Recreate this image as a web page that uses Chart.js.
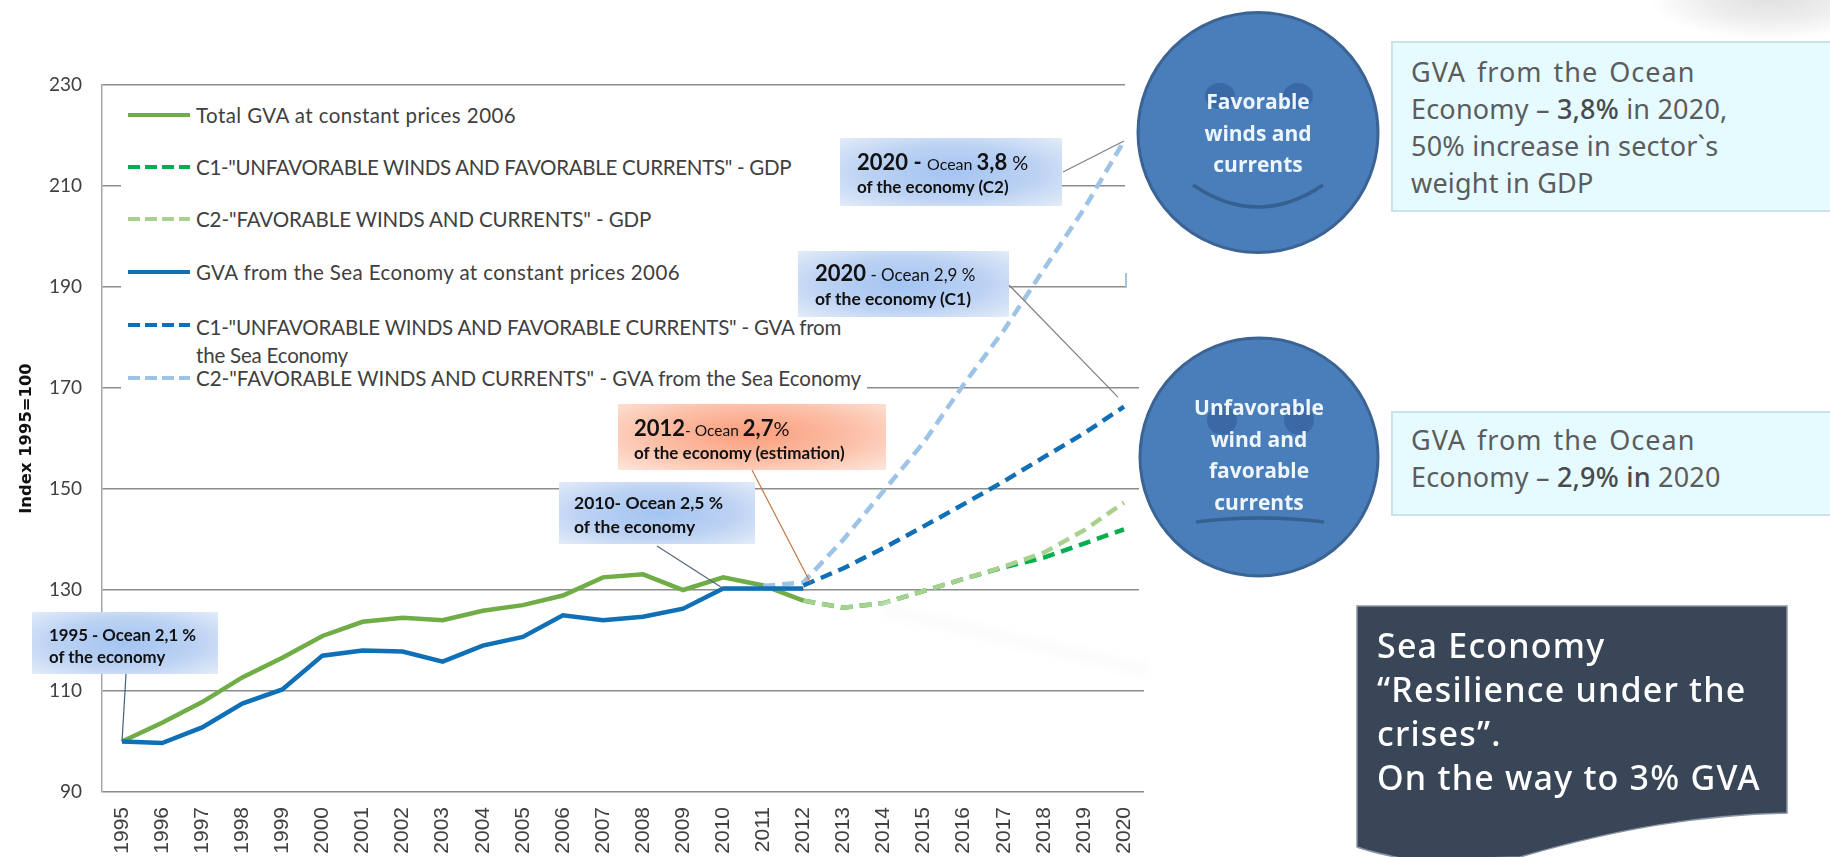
<!DOCTYPE html>
<html lang="en">
<head>
<meta charset="utf-8">
<title>Sea Economy GVA scenarios</title>
<script src="https://cdn.jsdelivr.net/npm/chart.js@4/dist/chart.umd.min.js"></script>
<style>
  html, body { margin: 0; padding: 0; background: #fff; }
  #page { position: relative; width: 1830px; height: 857px; overflow: hidden; background: #fff; font-family: Lato, sans-serif; }
  #chart { position: absolute; left: 0; top: 0; }
  .abs { position: absolute; }
  .mask { position: absolute; background: #fff; }

  /* legend */
  #legend { position: absolute; left: 121px; top: 88px; width: 746px; height: 312px; background: #fff; color: #404040; font-size: 20.5px; }
  .leg-row { position: absolute; left: 7px; height: 24px; }
  .leg-swatch { position: absolute; left: 0; top: 10px; width: 62px; height: 4px; }
  .leg-text { position: absolute; left: 68px; top: 0; white-space: nowrap; line-height: 24px; }

  /* callouts */
  .callout { position: absolute; color: #111; font-weight: 700; white-space: nowrap; }
  .blue { background: radial-gradient(ellipse at 50% 50%, #a3c4f2 0%, #bcd2f3 55%, #e3ecf9 100%); }
  .orange { background: radial-gradient(ellipse at 50% 45%, #fb9d7c 0%, #fcc0a8 55%, #fde6dc 100%); }
  .callout .ln { position: absolute; left: 0; line-height: 26px; }
  .callout .thin { font-weight: 400; }

  /* right text boxes */
  .note { position: absolute; left: 1391px; width: 445px; background: #e6fbff; border: 2px solid #cbe3e8; box-sizing: border-box; color: #5c5c5c; font-family: "Noto Sans", sans-serif; font-size: 27px; }
  .note .ln { position: absolute; left: 18px; white-space: nowrap; line-height: 38px; letter-spacing: 0.2px; }
  .note .wide { letter-spacing: 1px; word-spacing: 3px; }
  .note b { font-weight: 500; color: #4a4a4a; }

  .face-text { position: absolute; width: 240px; text-align: center; color: #eef6fb; font-family: "Open Sans", sans-serif; font-weight: 700; font-size: 21px; line-height: 31.7px; }

  #dark-text { position: absolute; left: 1377px; top: 623px; color: #fff; font-family: "Noto Sans", sans-serif; font-weight: 500; font-size: 34px; line-height: 44px; letter-spacing: 1.2px; white-space: nowrap; }
</style>
</head>
<body>
<div id="page">
  <canvas id="chart" width="1830" height="857"></canvas>

  <!-- 배경 그림자와 희미한 띠 -->
  <div class="abs" style="left:1650px;top:-45px;width:240px;height:85px;background:radial-gradient(closest-side, #e0e0e0 0%, #ececec 50%, rgba(255,255,255,0) 100%);"></div>
  <div class="abs" style="left:880px;top:634px;width:270px;height:12px;background:#fafafa;filter:blur(4px);transform:rotate(13deg);"></div>

  <!-- 그림에서 격자를 가리는 흰 영역 -->
  <div class="mask" style="left:1125px;top:0;width:30px;height:291px;"></div>
  <div class="mask" style="left:1139px;top:291px;width:20px;height:310px;"></div>
  <div class="abs" style="left:1125px;top:273px;width:1.5px;height:15px;background:#a9c3d6;"></div>

  <div id="legend"></div>

  <div class="callout blue" style="left:32px;top:612px;width:186px;height:62px;font-size:16.8px;">
    <div class="ln" style="left:17px;top:10px;">1995 - Ocean 2,1 %</div>
    <div class="ln" style="left:17px;top:32px;">of the economy</div>
  </div>
  <div class="callout blue" style="left:559px;top:482px;width:196px;height:62px;font-size:17.5px;">
    <div class="ln" style="left:15px;top:8px;">2010- Ocean 2,5 %</div>
    <div class="ln" style="left:15px;top:32px;">of the economy</div>
  </div>
  <div class="callout orange" style="left:618px;top:404px;width:268px;height:66px;font-size:17px;">
    <div class="ln" style="left:16px;top:11px;"><span style="font-size:22px;">2012</span><span class="thin" style="font-size:15.5px;">- Ocean </span><span style="font-size:22px;">2,7</span><span class="thin" style="font-size:20px;">%</span></div>
    <div class="ln" style="left:16px;top:36px;">of the economy (estimation)</div>
  </div>
  <div class="callout blue" style="left:840px;top:138px;width:222px;height:68px;font-size:17px;">
    <div class="ln" style="left:17px;top:11px;"><span style="font-size:22px;">2020 - </span><span class="thin" style="font-size:16px;">Ocean </span><span style="font-size:22px;">3,8</span><span class="thin" style="font-size:20px;"> %</span></div>
    <div class="ln" style="left:17px;top:36px;">of the economy (C2)</div>
  </div>
  <div class="callout blue" style="left:798px;top:251px;width:211px;height:66px;font-size:17.5px;">
    <div class="ln" style="left:17px;top:9px;"><span style="font-size:22px;">2020</span><span class="thin" style="font-size:17px;"> - Ocean 2,9 %</span></div>
    <div class="ln" style="left:17px;top:35px;">of the economy (C1)</div>
  </div>

  <!-- 얼굴 모양 원 -->
  <svg class="abs" style="left:1120px;top:0;" width="280" height="600" viewBox="1120 0 280 600">
    <circle cx="1258" cy="132.5" r="120" fill="#4a7ebb" stroke="#3b6494" stroke-width="3"/>
    <ellipse cx="1220" cy="96" rx="15" ry="13" fill="#3a69a6"/>
    <ellipse cx="1298" cy="96" rx="15" ry="13" fill="#3a69a6"/>
    <path d="M1193 185 Q1258 229 1323 185" fill="none" stroke="#35608f" stroke-width="3.5"/>
    <circle cx="1259" cy="457" r="119" fill="#4a7ebb" stroke="#3b6494" stroke-width="3"/>
    <ellipse cx="1222" cy="420" rx="15" ry="15" fill="#3a69a6"/>
    <ellipse cx="1299" cy="420" rx="15" ry="15" fill="#3a69a6"/>
    <path d="M1196 522 Q1260 514 1324 522" fill="none" stroke="#35608f" stroke-width="3.5"/>
  </svg>
  <div class="face-text" style="left:1138px;top:86px;">Favorable<br>winds and<br>currents</div>
  <div class="face-text" style="left:1139px;top:392px;">Unfavorable<br>wind and<br>favorable<br>currents</div>

  <div class="note" style="top:41px;height:171px;">
    <div class="ln wide" style="top:10px;">GVA from the Ocean</div>
    <div class="ln" style="top:47px;">Economy – <b>3,8%</b> in 2020,</div>
    <div class="ln" style="top:84px;">50% increase in sector`s</div>
    <div class="ln" style="top:121px;">weight in GDP</div>
  </div>
  <div class="note" style="top:411px;height:105px;">
    <div class="ln wide" style="top:8px;">GVA from the Ocean</div>
    <div class="ln" style="top:45px;">Economy – <b>2,9% in</b> 2020</div>
  </div>

  <svg class="abs" style="left:1350px;top:600px;" width="450" height="257" viewBox="1350 600 450 257">
    <path d="M1357 606 L1787 606 L1787 813 C1700 815 1620 828 1520 857 L1410 860 C1390 856 1370 852 1357 847 Z" fill="#394658" stroke="#8a96a5" stroke-width="1.5"/>
  </svg>
  <div id="dark-text">Sea Economy<br>“Resilience under the<br>crises”.<br>On the way to 3% GVA</div>
</div>

<script>
// 연도
const years = ["1995","1996","1997","1998","1999","2000","2001","2002","2003","2004","2005","2006","2007","2008","2009","2010","2011","2012","2013","2014","2015","2016","2017","2018","2019","2020"];

// 시리즈 값 (그림에서 읽음, 1995=100)
const totalGva = [100,103.7,107.8,112.7,116.6,120.9,123.7,124.5,124,125.9,127,128.9,132.5,133.1,130,132.5,130.9,127.9,null,null,null,null,null,null,null,null];
const c1Gdp = [null,null,null,null,null,null,null,null,null,null,null,null,null,null,null,null,null,127.9,126.5,127.4,129.8,132.2,134.5,136.4,139.2,142];
const c2Gdp = [null,null,null,null,null,null,null,null,null,null,null,null,null,null,null,null,null,127.9,126.5,127.4,129.8,132.2,134.6,137.4,141.8,147.3];
const seaGva = [100,99.7,102.8,107.5,110.3,117,118,117.8,115.8,119,120.7,125,124,124.7,126.3,130.3,130.3,130.3,null,null,null,null,null,null,null,null];
const c1Sea = [null,null,null,null,null,null,null,null,null,null,null,null,null,null,null,null,null,130.9,134.3,138.3,142.6,147,151.5,156.3,161,166.3];
const c2Sea = [null,null,null,null,null,null,null,null,null,null,null,null,null,null,null,null,130.8,131.5,140,149.6,159.2,170.7,181.4,193.5,205.4,218.9];

// y축 눈금
const yMin = 90;
const yMax = 230;
const yStep = 20;

// 범례 문구
const legendLabels = [
  'Total GVA at constant prices 2006',
  'C1-"UNFAVORABLE WINDS AND FAVORABLE CURRENTS" - GDP',
  'C2-"FAVORABLE WINDS AND CURRENTS" - GDP',
  'GVA from the Sea Economy at constant prices 2006',
  'C1-"UNFAVORABLE WINDS AND FAVORABLE CURRENTS" - GVA from the Sea Economy',
  'C2-"FAVORABLE WINDS AND CURRENTS" - GVA from the Sea Economy',
];

const seriesValues = [totalGva, c1Gdp, c2Gdp, seaGva, c1Sea, c2Sea];
const seriesColors = ["#70ad47", "#00b050", "#a9d18e", "#0f70b7", "#0f70b7", "#9dc3e6"];
const seriesDashed = [false, true, true, false, true, true];
const seriesOrder = [4, 6, 5, 1, 2, 3]; // 작을수록 위에 그려짐

// 설명 상자에서 데이터 점으로 가는 선
const leaders = [
  { fromX: 126, fromY: 674, year: "1995", value: 100, dx: 0, color: "#44607f" },
  { fromX: 657, fromY: 546, year: "2010", value: 130.3, dx: 0, color: "#55677c" },
  { fromX: 752, fromY: 470, year: "2012", value: 131.5, dx: 7, color: "#c5763f" },
  { fromX: 1063, fromY: 172, year: "2020", value: 218.9, dx: 0, color: "#7f7f7f" },
  { fromX: 1009, fromY: 285, year: "2020", value: 168.2, dx: -6, color: "#7f7f7f" },
];

const leaderPlugin = {
  id: "leaders",
  afterDatasetsDraw(chart) {
    const { ctx, scales } = chart;
    ctx.save();
    ctx.lineWidth = 1.2;
    leaders.forEach((l) => {
      ctx.strokeStyle = l.color;
      ctx.beginPath();
      ctx.moveTo(l.fromX, l.fromY);
      ctx.lineTo(scales.x.getPixelForValue(years.indexOf(l.year)) + l.dx, scales.y.getPixelForValue(l.value));
      ctx.stroke();
    });
    ctx.restore();
  },
};

new Chart(document.getElementById("chart"), {
  type: "line",
  data: {
    labels: years,
    datasets: legendLabels.map((label, i) => ({
      label,
      data: seriesValues[i],
      borderColor: seriesColors[i],
      borderWidth: 4.5,
      borderDash: seriesDashed[i] ? [12, 7] : [],
      pointRadius: 0,
      tension: 0,
      spanGaps: false,
      order: seriesOrder[i],
    })),
  },
  options: {
    responsive: false,
    animation: false,
    layout: { padding: { left: 0, right: 686, top: 85, bottom: 0 } },
    plugins: { legend: { display: false }, tooltip: { enabled: false } },
    scales: {
      x: {
        offset: true,
        grid: { display: false, drawTicks: false },
        border: { display: false },
        ticks: { minRotation: 90, maxRotation: 90, padding: 15, color: "#404040", font: { family: "Liberation Sans", size: 21 } },
        afterFit(scale) { scale.height = 65; },
      },
      y: {
        min: yMin,
        max: yMax,
        ticks: { stepSize: yStep, padding: 20, color: "#404040", font: { family: "Lato", size: 19 } },
        grid: { color: "#8c8c8c", lineWidth: 1.5, drawTicks: false },
        border: { display: true, color: "#a6a6a6", width: 1.5 },
        title: { display: true, text: "Index 1995=100", color: "#111", padding: { top: 17, bottom: 0 }, font: { family: "DejaVu Sans", weight: "bold", size: 16.4 } },
        afterFit(scale) { scale.width = 102; },
      },
    },
  },
  plugins: [leaderPlugin],
});

// 범례는 흰 상자 위에 직접 만든다
const legendEl = document.getElementById("legend");
const legendTops = [15, 67, 119, 172, 225, 278];
const legendSpacing = [0.42, -0.3, -0.1, 0.39, -0.2, 0];
legendLabels.forEach((label, i) => {
  const row = document.createElement("div");
  row.className = "leg-row";
  row.style.top = legendTops[i] + "px";
  const swatch = document.createElement("div");
  swatch.className = "leg-swatch";
  swatch.style.background = seriesDashed[i]
    ? `repeating-linear-gradient(90deg, ${seriesColors[i]} 0 12px, transparent 12px 17px)`
    : seriesColors[i];
  const text = document.createElement("div");
  text.className = "leg-text";
  text.style.letterSpacing = legendSpacing[i] + "px";
  text.style.width = i === 4 ? "660px" : "auto";
  text.style.whiteSpace = i === 4 ? "normal" : "nowrap";
  text.style.lineHeight = i === 4 ? "28px" : "24px";
  text.textContent = label;
  row.appendChild(swatch);
  row.appendChild(text);
  legendEl.appendChild(row);
});
</script>
</body>
</html>
